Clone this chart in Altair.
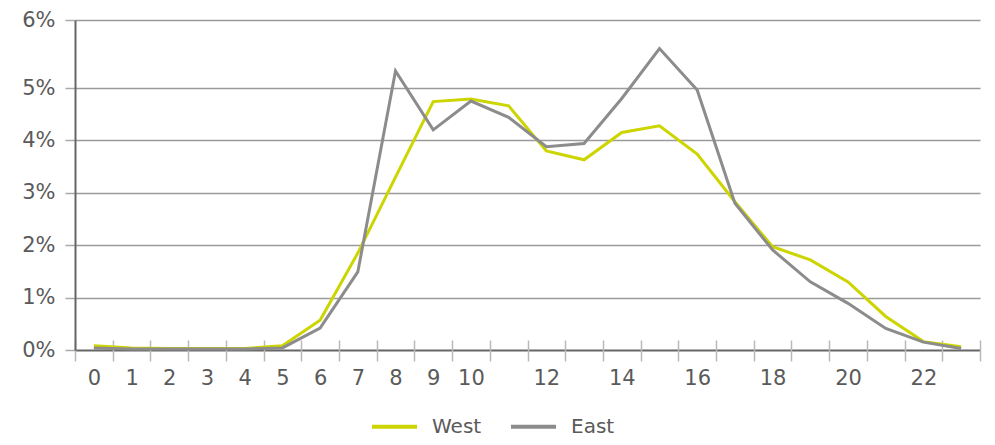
import altair as alt
import pandas as pd

hours = list(range(24))
west = [0.08, 0.04, 0.03, 0.03, 0.03, 0.08, 0.57, 1.85, 3.30, 4.74, 4.79, 4.66,
        3.80, 3.63, 4.15, 4.28, 3.74, 2.83, 1.97, 1.72, 1.30, 0.64, 0.16, 0.06]
east = [0.04, 0.02, 0.02, 0.02, 0.02, 0.04, 0.42, 1.49, 5.25, 4.20, 4.75, 4.44,
        3.88, 3.94, 4.80, 5.58, 4.96, 2.80, 1.91, 1.30, 0.89, 0.41, 0.15, 0.03]
series = ["West", "East"]
colors = ["#cdd500", "#8c8c8c"]
y_ticks = [0, 0.01, 0.02, 0.03, 0.04, 0.05, 0.06]

rows = []
for name, vals in zip(series, [west, east]):
    for h, v in zip(hours, vals):
        rows.append({"hour": h, "share": v / 100, "region": name})
df = pd.DataFrame(rows)

FONT = "DejaVu Sans"
W, H = 905, 330

chart = alt.Chart(df).mark_line(strokeWidth=3, strokeJoin="miter").encode(
    x=alt.X("hour:O",
            scale=alt.Scale(paddingInner=0, paddingOuter=0),
            axis=alt.Axis(title=None, labelAngle=0, tickBand="extent",
                          offset=-10, domain=False, tickSize=21,
                          tickColor="#b8b8b8", tickWidth=1.5,
                          labelPadding=6, labelFontSize=21, labelColor="#5a5a5a",
                          labelFont=FONT, grid=False,
                          labelExpr="(datum.value <= 10 || datum.value % 2 == 0) ? datum.label : ''")),
    y=alt.Y("share:Q",
            scale=alt.Scale(domain=[0, 0.05, 0.06], range=[H, H - 262, 0], nice=False),
            axis=alt.Axis(title=None, values=y_ticks, format=".0%",
                          grid=True,
                          gridColor=alt.condition("datum.value === 0", alt.value("#666666"), alt.value("#9a9a9a")),
                          gridWidth=alt.condition("datum.value === 0", alt.value(2), alt.value(1.5)),
                          tickSize=10, tickColor="#aaaaaa", tickWidth=1.5,
                          domain=True, domainColor="#666666", domainWidth=2,
                          labelPadding=10, labelFontSize=21, labelColor="#5a5a5a",
                          labelFont=FONT)),
    color=alt.Color("region:N",
                    scale=alt.Scale(domain=series, range=colors),
                    legend=alt.Legend(title=None, orient="none", direction="horizontal",
                                      legendX=295, legendY=382,
                                      symbolType="stroke", symbolSize=2025,
                                      symbolStrokeWidth=4, labelOffset=13,
                                      columnPadding=21, labelFontSize=20,
                                      labelColor="#5a5a5a", labelFont=FONT)),
    order=alt.Order("region:N", sort="descending"),
).properties(
    width=W, height=H,
    autosize=alt.AutoSizeParams(type="none"),
    padding={"left": 67, "top": 12, "right": 7, "bottom": 87},
).configure_view(stroke=None)

chart.save("out.html", embed_options={"renderer": "svg", "actions": False})
